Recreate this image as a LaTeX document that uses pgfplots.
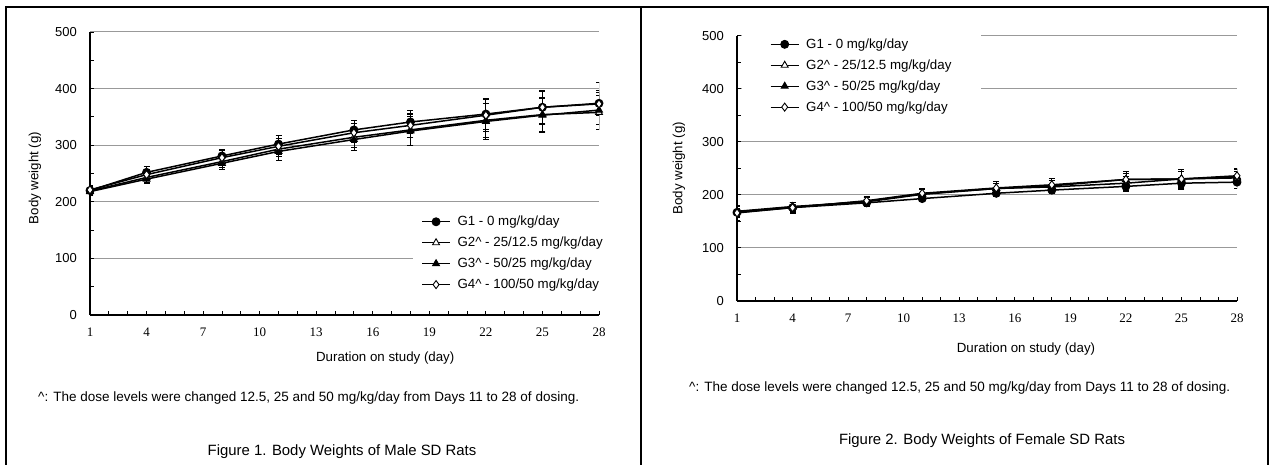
\documentclass[border=0pt]{standalone}
\usepackage{pgfplots}
\pgfplotsset{compat=1.18}
\usepackage{fontspec}
\setmainfont{Liberation Sans}
\newfontfamily\serifx{Liberation Serif}

\pgfplotstableread{
x y e
1 220 8
4 252 10
8 281 12
11 302 15
15 327 17
18 341 20
22 355 27
25 367 30
28 374 37
}\MaleA
\pgfplotstableread{
x y e
1 219 7
4 243 8
8 271 10
11 293 13
15 314 18
18 327 28
22 344 30
25 354 30
28 358 30
}\MaleB
\pgfplotstableread{
x y e
1 218 6
4 240 7
8 268 10
11 289 15
15 310 19
18 325 25
22 342 31
25 353 30
28 362 34
}\MaleC
\pgfplotstableread{
x y e
1 221 8
4 248 10
8 278 12
11 298 14
15 322 17
18 335 22
22 353 28
25 367 28
28 373 20
}\MaleD
\pgfplotstableread{
x y e
1 167 8
4 176 9
8 185 6
11 193 6
15 203 6
18 209 7
22 216 10
25 222 11
28 224 11
}\FemA
\pgfplotstableread{
x y e
1 168 10
4 177 9
8 188 8
11 202 10
15 212 10
18 217 10
22 229 15
25 230 14
28 232 13
}\FemB
\pgfplotstableread{
x y e
1 169 9
4 178 8
8 187 9
11 201 11
15 212 10
18 215 12
22 222 13
25 230 18
28 234 15
}\FemC
\pgfplotstableread{
x y e
1 166 15
4 176 10
8 189 8
11 203 8
15 213 12
18 219 12
22 229 12
25 230 15
28 236 12
}\FemD

\pgfplotsset{
  ratstyle/.style={
    scale only axis,
    xmin=1, xmax=28, ymin=0, ymax=500,
    axis x line*=bottom, axis y line*=left,
    axis line style={-, line width=1.2pt, black},
    xtick={1,4,7,10,13,16,19,22,25,28},
    minor x tick num=2,
    ytick={0,100,200,300,400,500},
    minor y tick num=1,
    tick align=inside,
    major tick length=4pt, minor tick length=3.5pt,
    tick style={black, line width=0.9pt},
    ymajorgrids,
    major grid style={draw=black!40, line width=1pt},
    /pgf/number format/assume math mode=true,
    xticklabel style={font=\serifx\fontsize{13}{13}\selectfont, anchor=center, inner sep=0pt, yshift=-17pt},
    yticklabel style={font=\fontsize{13}{13}\selectfont, anchor=east, inner sep=0pt, xshift=-13pt},
    label style={font=\fontsize{13.3}{15}\selectfont},
    legend style={font=\fontsize{13.3}{15}\selectfont, fill=white, draw=none, row sep=5.8pt, inner ysep=6pt,
      /tikz/every odd column/.append style={column sep=5pt}},
    legend cell align=left,
    legend image code/.code={\draw[line width=1pt, mark repeat=2,mark phase=2] plot coordinates {(0pt,0pt)(14pt,0pt)(28pt,0pt)};},
    cycle list={{black,solid},{black,solid},{black,solid},{black,solid}},
    every axis plot/.append style={black, line width=1.5pt, mark size=4pt,
      error bars/y dir=both, error bars/y explicit,
      error bars/error bar style={line width=0.8pt, black},
      error bars/error mark options={line width=0.8pt, mark size=3pt, black, rotate=90}},
  }
}

\begin{document}
\begin{tikzpicture}[x=1pt,y=1pt]
\path[use as bounding box] (0,0) rectangle (1274,465);
\draw[line width=1.8pt] (6,0) -- (6,458) -- (1268,458) -- (1268,0);
\draw[line width=1.8pt] (641,0) -- (641,458);

\begin{axis}[ratstyle,
  at={(90pt,150pt)}, anchor=south west, width=509pt, height=283pt,
  xlabel={Duration on study (day)}, ylabel={Body weight (g)},
  x label style={at={(axis description cs:0.58,-0.152)}, anchor=center},
  y label style={at={(axis description cs:-0.108,0.484)}, anchor=center},
  legend style={at={(axis cs:18.1,189)}, anchor=north west, inner xsep=9pt},
]
\addplot+[mark=*, mark options={fill=black, solid, line width=0.9pt}] table[x=x, y=y, y error=e] {\MaleA};
\addlegendentry{G1 - 0 mg/kg/day}
\addplot+[mark=triangle*, mark options={fill=white, solid, line width=0.9pt}] table[x=x, y=y, y error=e] {\MaleB};
\addlegendentry{G2\^{} - 25/12.5 mg/kg/day}
\addplot+[mark=triangle*, mark options={fill=black, solid, line width=0.9pt}] table[x=x, y=y, y error=e] {\MaleC};
\addlegendentry{G3\^{} - 50/25 mg/kg/day}
\addplot+[mark=diamond*, mark options={fill=white, solid, line width=0.9pt}] table[x=x, y=y, y error=e] {\MaleD};
\addlegendentry{G4\^{} - 100/50 mg/kg/day}
\end{axis}

\begin{axis}[ratstyle,
  at={(737pt,164pt)}, anchor=south west, width=500pt, height=265.3pt,
  xlabel={Duration on study (day)}, ylabel={Body weight (g)},
  x label style={at={(axis description cs:0.578,-0.181)}, anchor=center},
  y label style={at={(axis description cs:-0.116,0.5)}, anchor=center},
  legend style={at={(axis cs:1.27,521)}, anchor=north west, inner xsep=28pt, inner ysep=12pt},
]
\addplot+[mark=*, mark options={fill=black, solid, line width=0.9pt}] table[x=x, y=y, y error=e] {\FemA};
\addlegendentry{G1 - 0 mg/kg/day}
\addplot+[mark=triangle*, mark options={fill=white, solid, line width=0.9pt}] table[x=x, y=y, y error=e] {\FemB};
\addlegendentry{G2\^{} - 25/12.5 mg/kg/day}
\addplot+[mark=triangle*, mark options={fill=black, solid, line width=0.9pt}] table[x=x, y=y, y error=e] {\FemC};
\addlegendentry{G3\^{} - 50/25 mg/kg/day}
\addplot+[mark=diamond*, mark options={fill=white, solid, line width=0.9pt}] table[x=x, y=y, y error=e] {\FemD};
\addlegendentry{G4\^{} - 100/50 mg/kg/day}
\end{axis}

\node[anchor=west, font=\fontsize{13.5}{15}\selectfont, inner sep=0pt] at (38,67) {\^{}: The dose levels were changed 12.5, 25 and 50 mg/kg/day from Days 11 to 28 of dosing.};
\node[anchor=west, font=\fontsize{13.5}{15}\selectfont, inner sep=0pt] at (689,77) {\^{}: The dose levels were changed 12.5, 25 and 50 mg/kg/day from Days 11 to 28 of dosing.};
\node[font=\fontsize{14.9}{16}\selectfont, inner sep=0pt] at (342,13) {Figure 1. Body Weights of Male SD Rats};
\node[font=\fontsize{14.9}{16}\selectfont, inner sep=0pt] at (982,24) {Figure 2. Body Weights of Female SD Rats};
\end{tikzpicture}
\end{document}
